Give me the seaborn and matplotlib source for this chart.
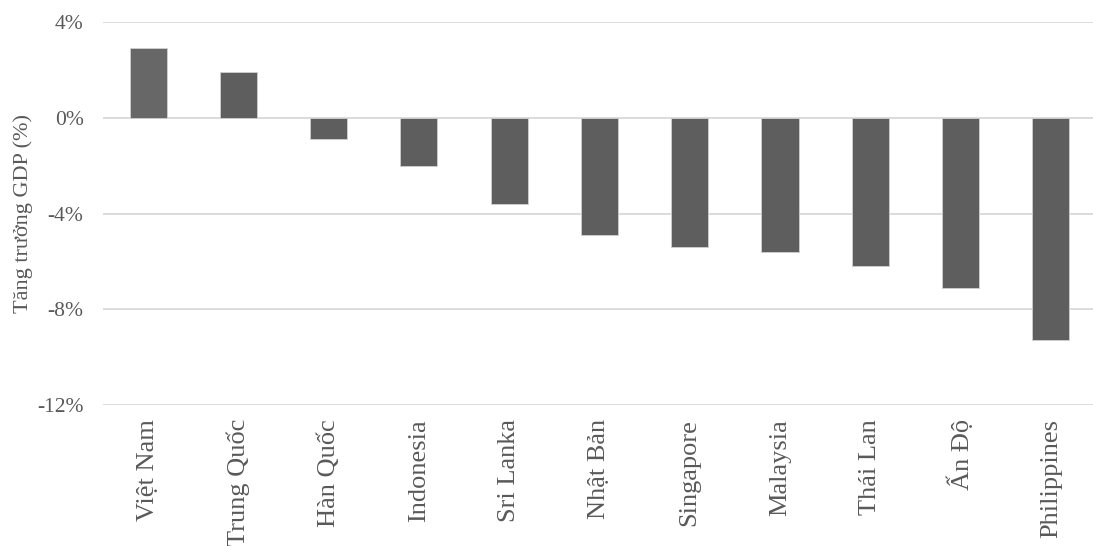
import matplotlib
matplotlib.use("Agg")
import matplotlib.pyplot as plt
import seaborn as sns
import pandas as pd
from matplotlib.ticker import FuncFormatter

countries = ["Việt Nam", "Trung Quốc", "Hàn Quốc", "Indonesia", "Sri Lanka",
             "Nhật Bản", "Singapore", "Malaysia", "Thái Lan", "Ấn Độ", "Philippines"]
growth = [2.9, 1.9, -0.9, -2.0, -3.6, -4.9, -5.4, -5.6, -6.2, -7.1, -9.3]
y_ticks = [4, 0, -4, -8, -12]

df = pd.DataFrame({"country": countries, "growth": growth})

sns.set_theme(style="white")
plt.rcParams["font.family"] = ["Liberation Serif", "DejaVu Serif"]

text_color = "#595959"
bar_colors = ["#676767"] + ["#5e5e5e"] * (len(countries) - 1)

fig = plt.figure(figsize=(10.93, 5.46), dpi=100)
ax = fig.add_axes([0.0942, 0.2582, 0.9085, 0.7015])

ax.yaxis.grid(True, color="#d9d9d9", linewidth=1.3)
ax.set_axisbelow(True)

sns.barplot(data=df, x="country", y="growth", hue="country", palette=bar_colors,
            legend=False, width=0.41, ax=ax, edgecolor="#d0d0d0", linewidth=0.6)

ax.set_ylim(-12, 4)
ax.set_xlim(-0.5, len(countries) - 0.5)
ax.set_yticks(y_ticks)
ax.yaxis.set_major_formatter(FuncFormatter(lambda v, p: f"{v:.0f}%"))
ax.tick_params(axis="y", labelsize=15.5, labelcolor=text_color, length=0, pad=14)
ax.tick_params(axis="x", labelsize=19, labelcolor=text_color, length=0, pad=10)
plt.setp(ax.get_xticklabels(), rotation=90, va="top", ha="center")

ax.set_xlabel("")
ax.set_ylabel("Tăng trưởng GDP (%)", fontsize=16, color=text_color, labelpad=3)

for side in ["top", "right", "left", "bottom"]:
    ax.spines[side].set_visible(False)

fig.savefig("out.png", dpi=100)
